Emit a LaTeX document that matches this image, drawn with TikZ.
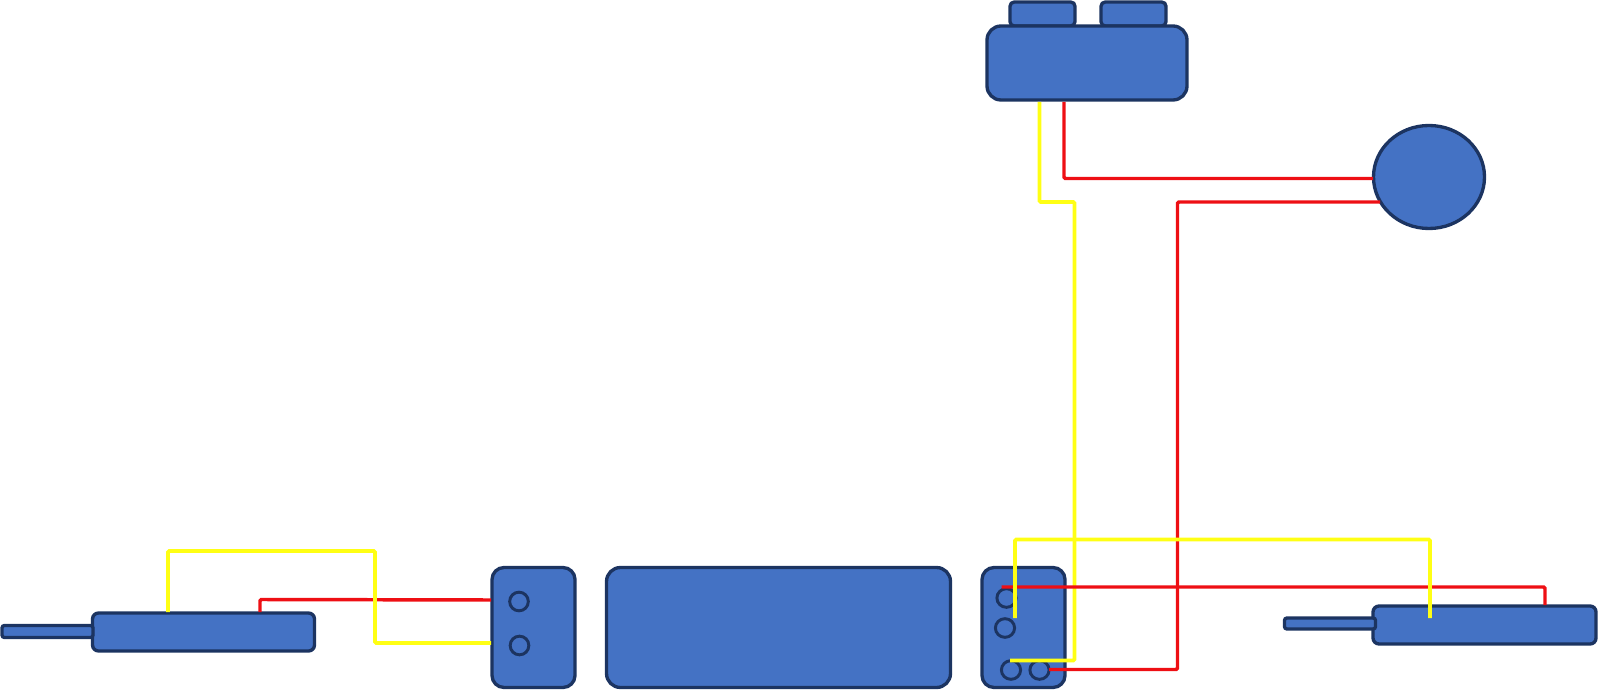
\documentclass[tikz,border=0pt]{standalone}
\usetikzlibrary{shapes.geometric}
\definecolor{partfill}{HTML}{4472C4}
\definecolor{partline}{HTML}{1C3461}
\definecolor{wirey}{HTML}{FFFF14}
\definecolor{wirer}{HTML}{EE0F14}
\tikzset{
  sz/.style 2 args={minimum width=#1*0.75pt,minimum height=#2*0.75pt},
  part/.style={draw=partline,fill=partfill,line width=2.5pt,inner sep=0pt,outer sep=0pt,rectangle},
  bigbox/.style={part,rounded corners=10.5pt},
  midbox/.style={part,rounded corners=7.5pt},
  smallbox/.style={part,rounded corners=3.2pt},
  stick/.style={part,rounded corners=1.8pt},
  pin/.style={draw=partline,fill=partfill,line width=2.2pt,inner sep=0pt,outer sep=0pt,ellipse,minimum width=14.4pt,minimum height=14pt},
  ywire/.style={draw=wirey,line width=2.8pt,rounded corners=1pt},
  rwire/.style={draw=wirer,line width=2.6pt,rounded corners=1pt},
}
\begin{document}
\begin{tikzpicture}[x=0.75pt,y=-0.75pt]
\useasboundingbox (0,0) rectangle (1600,691);
% parts
\node[midbox,rounded corners=4.5pt,sz={222}{38}] (lprobe) at (203.5,632) {};
\node[stick,sz={91}{12}] (lstick) at (47.5,631.5) {};
\node[bigbox,rounded corners=9pt,sz={83}{120}] (lconn) at (533.5,627.5) {};
\node[pin,minimum width=14pt] (lpa) at (519,601.5) {};
\node[pin,minimum width=14pt] (lpb) at (519.5,645.5) {};
\node[bigbox,sz={344}{120}] (centre) at (778.5,627.5) {};
\node[bigbox,rounded corners=9pt,sz={83}{120}] (rconn) at (1023.5,627.5) {};
\node[pin] (rpa) at (1006.5,598) {};
\node[pin] (rpb) at (1005,628) {};
\node[pin] (rpc) at (1011,670) {};
\node[pin] (rpd) at (1039.5,670) {};
\node[midbox,rounded corners=4.5pt,sz={223}{38}] (rprobe) at (1484.5,625) {};
\node[stick,sz={91}{11}] (rstick) at (1330,623.5) {};
\node[smallbox,sz={65}{24}] (taba) at (1042.5,14) {};
\node[smallbox,sz={65}{24}] (tabb) at (1133.5,14) {};
\node[bigbox,sz={200}{74}] (topbox) at (1087,63) {};
\node[part,ellipse,sz={111}{103}] (disc) at (1429,177) {};
% wire ends
\coordinate (lpY) at (168,612);
\coordinate (lpR) at (260,612);
\coordinate (lcY) at (491,643);
\coordinate (lcR) at (491,600);
\coordinate (rcYa) at (1015,618);
\coordinate (rpY) at (1430,618);
\coordinate (rcRa) at (1001.5,587);
\coordinate (rpR) at (1545,605);
\coordinate (rcYb) at (1010,660.5);
\coordinate (tbY) at (1039.5,102);
\coordinate (rcRb) at (1049,669.5);
\coordinate (tbR) at (1064,102);
\coordinate (dR) at (1373,178.5);
\coordinate (dRb) at (1380,202);
% wires
\draw[rwire] (lpR) -- (260,599.5) -- (lcR);
\draw[ywire] (lpY) -- (168,551) -- (375,551) -- (375,643) -- (lcY);
\draw[rwire] (tbR) -- (1064,178.5) -- (dR);
\draw[rwire] (rcRb) -- (1177.5,669.5) -- (1177.5,202) -- (dRb);
\draw[ywire] (tbY) -- (1039.5,202) -- (1074.5,202) -- (1074.5,660.5) -- (rcYb);
\draw[rwire] (rcRa) -- (1545,587) -- (rpR);
\draw[ywire] (rcYa) -- (1015,539.5) -- (1430,539.5) -- (rpY);
\end{tikzpicture}
\end{document}
